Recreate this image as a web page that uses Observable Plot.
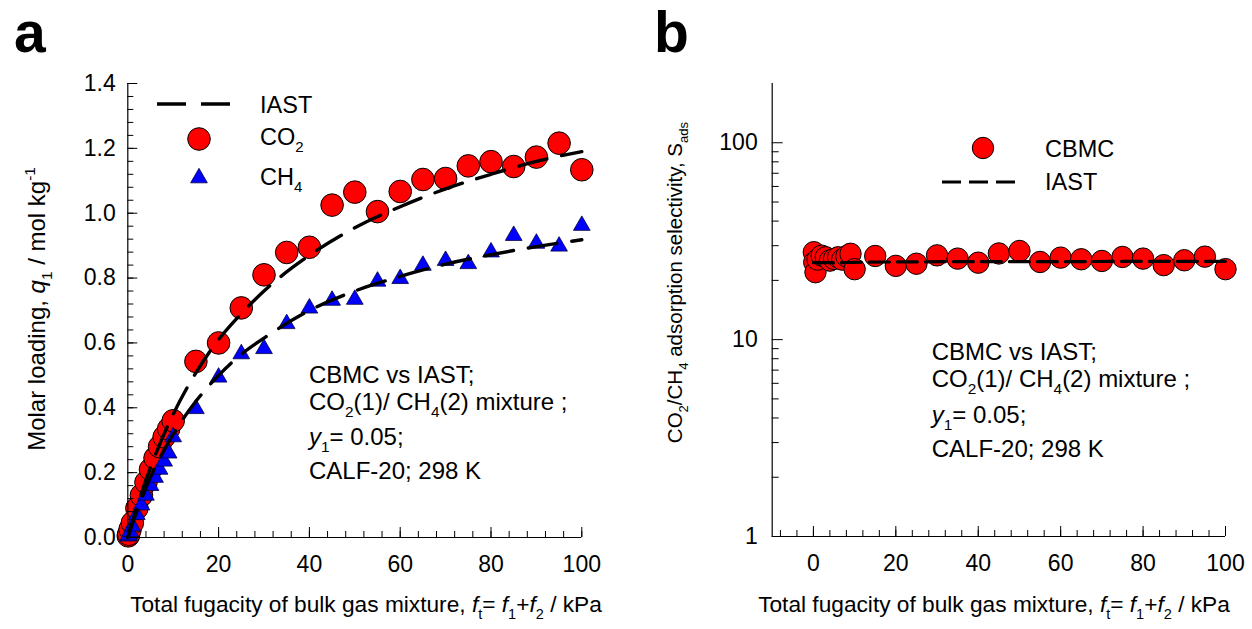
<!DOCTYPE html>
<html><head><meta charset="utf-8">
<script src="https://cdn.jsdelivr.net/npm/d3@7"></script>
<script src="https://cdn.jsdelivr.net/npm/@observablehq/plot@0.6"></script>
<style>
body{margin:0;background:#fff;}
#wrap{position:relative;width:1252px;height:629px;overflow:hidden;font-family:"Liberation Sans",Arial,sans-serif;background:#fff;}
#wrap svg{position:absolute;top:0;overflow:visible;}
</style></head><body><div id="wrap"></div>
<script>
// ---------- data ----------
const fugacity = [0.1, 0.2, 0.5, 1, 2, 3, 4, 5, 6, 7, 8, 9, 10, 15, 20, 25, 30, 35, 40, 45, 50, 55, 60, 65, 70, 75, 80, 85, 90, 95, 100];
const co2Loading = [0.005, 0.01, 0.025, 0.045, 0.09, 0.13, 0.17, 0.21, 0.245, 0.28, 0.31, 0.335, 0.36, 0.543, 0.60, 0.708, 0.81, 0.879, 0.895, 1.025, 1.065, 1.005, 1.067, 1.104, 1.107, 1.146, 1.159, 1.144, 1.173, 1.216, 1.134];
const ch4Loading = [0.004, 0.007, 0.018, 0.035, 0.07, 0.10, 0.13, 0.16, 0.185, 0.21, 0.235, 0.26, 0.31, 0.397, 0.494, 0.566, 0.582, 0.659, 0.707, 0.731, 0.734, 0.79, 0.798, 0.839, 0.854, 0.844, 0.88, 0.931, 0.907, 0.898, 0.962];
const selectivityCBMC = [27.8, 24.7, 22.0, 25.5, 26.7, 26.2, 25.2, 25.7, 26.2, 25.5, 26.5, 27.3, 22.8, 26.6, 23.7, 24.3, 26.8, 25.8, 24.6, 27.4, 28.2, 24.8, 26.1, 25.6, 25.1, 26.3, 25.8, 23.9, 25.3, 26.4, 22.8];

const iastFugacity = [0, 1, 2, 5, 10, 15, 20, 25, 30, 40, 50, 60, 70, 80, 90, 100];
const iastCO2 = [0, 0.048, 0.094, 0.216, 0.38, 0.508, 0.61, 0.69, 0.76, 0.87, 0.955, 1.02, 1.075, 1.12, 1.16, 1.19];
const iastCH4 = [0, 0.042, 0.081, 0.186, 0.318, 0.42, 0.5, 0.565, 0.615, 0.7, 0.76, 0.805, 0.843, 0.872, 0.897, 0.918];

const selIastFugacity = [0, 5, 10, 20, 40, 60, 80, 100];
const selIast = [24.6, 24.6, 24.7, 24.8, 24.9, 24.9, 25.0, 25.0];

const xTicks = [0, 20, 40, 60, 80, 100];
const yTicksA = [0, 0.2, 0.4, 0.6, 0.8, 1.0, 1.2, 1.4];
const yTicksB = [1, 10, 100];

// ---------- tables ----------
const cbmc = fugacity.map((f, i) => ({f, co2: co2Loading[i], ch4: ch4Loading[i], s: selectivityCBMC[i]}));
const iast = iastFugacity.map((f, i) => ({f, co2: iastCO2[i], ch4: iastCH4[i]}));
const iastSel = selIastFugacity.map((f, i) => ({f, s: selIast[i]}));

const minorXA = d3.range(0, 100.01, 4);
const minorYA = d3.range(0, 35.5, 1).map(i => +(i * 0.04).toFixed(2));
const minorXB = d3.range(-8, 100.01, 4);
const minorYB = [2,3,4,5,6,7,8,9,20,30,40,50,60,70,80,90];

const FONT = '"Liberation Sans", Arial, sans-serif';
const style = {fontFamily: FONT, fontSize: "23px", color: "#000", background: "none", overflow: "visible"};

// ---------- panel a ----------
const mA = {l: 127.3, r: 44.7, t: 83, b: 92};
const pwA = 626 - mA.l - mA.r, phA = 629 - mA.t - mA.b;
const plotA = Plot.plot({
  width: 626, height: 629,
  marginLeft: mA.l, marginRight: mA.r, marginTop: mA.t, marginBottom: mA.b,
  style,
  x: {domain: [0, 100], label: null},
  y: {domain: [0, 1.4], label: null},
  marks: [
    Plot.dot(cbmc, {x: "f", y: "co2", r: 11.3, fill: "#ff0000", stroke: "#000", strokeWidth: 1}),
    Plot.dot(cbmc, {x: "f", y: "ch4", r: 6.2, symbol: "triangle", fill: "#0000ff", stroke: "#000040", strokeWidth: 0.8}),
    Plot.line(iast, {x: "f", y: "co2", stroke: "#000", strokeWidth: 3.4, strokeDasharray: "29,15", curve: "monotone-x"}),
    Plot.line(iast, {x: "f", y: "ch4", stroke: "#000", strokeWidth: 3.4, strokeDasharray: "29,15", curve: "monotone-x"}),
    Plot.tickX(minorXA, {x: d => d, insetTop: phA - 6, stroke: "#000"}),
    Plot.tickX(xTicks, {x: d => d, insetTop: phA - 10, stroke: "#000"}),
    Plot.tickY(minorYA, {y: d => d, insetRight: pwA - 6, stroke: "#000"}),
    Plot.tickY(yTicksA, {y: d => d, insetRight: pwA - 10, stroke: "#000"}),
    Plot.ruleX([0], {stroke: "#000", strokeWidth: 1.2}),
    Plot.ruleY([0], {stroke: "#000", strokeWidth: 1.2}),
    Plot.axisX({ticks: xTicks, tickSize: 0, tickPadding: 18, label: null, fontSize: 23}),
    Plot.axisY({ticks: yTicksA, tickSize: 0, tickPadding: 12, tickFormat: d => d.toFixed(1), label: null, fontSize: 23})
  ]
});

// ---------- panel b ----------
const mB = {l: 145.7, r: 27, t: 83, b: 93};
const pwB = 626 - mB.l - mB.r, phB = 629 - mB.t - mB.b;
const plotB = Plot.plot({
  width: 626, height: 629,
  marginLeft: mB.l, marginRight: mB.r, marginTop: mB.t, marginBottom: mB.b,
  style,
  x: {domain: [-10, 100], label: null},
  y: {type: "log", domain: [1, 200], label: null},
  marks: [
    Plot.dot(cbmc, {x: "f", y: "s", r: 10.7, fill: "#ff0000", stroke: "#000", strokeWidth: 1}),
    Plot.line(iastSel, {x: "f", y: "s", stroke: "#000", strokeWidth: 3.2, strokeDasharray: "20,8", curve: "monotone-x"}),
    Plot.tickX(minorXB, {x: d => d, insetTop: phB - 6, stroke: "#000"}),
    Plot.tickX(xTicks, {x: d => d, insetTop: phB - 10, stroke: "#000"}),
    Plot.tickY(minorYB, {y: d => d, insetRight: pwB - 7, stroke: "#000"}),
    Plot.tickY(yTicksB, {y: d => d, insetRight: pwB - 11, stroke: "#000"}),
    Plot.ruleX([-10], {stroke: "#000", strokeWidth: 1.2}),
    Plot.ruleY([1], {stroke: "#000", strokeWidth: 1.2}),
    Plot.axisX({ticks: xTicks, tickSize: 0, tickPadding: 18, label: null, fontSize: 23}),
    Plot.axisY({ticks: yTicksB, tickSize: 0, tickPadding: 14.5, tickFormat: d => String(d), label: null, fontSize: 23})
  ]
});

const wrap = document.getElementById("wrap");
plotA.style.left = "0px";
plotB.style.left = "626px";
wrap.appendChild(plotA);
wrap.appendChild(plotB);

// ---------- overlay: titles, annotations, legends ----------
const ov = d3.select(wrap).append("svg")
  .attr("width", 1252).attr("height", 629)
  .style("left", "0px").style("pointer-events", "none")
  .attr("font-family", FONT);

function rich(x, y, parts, {size = 24, anchor = "start", rotate = 0, weight = null} = {}) {
  const t = ov.append("text").attr("x", x).attr("y", y).attr("font-size", size)
    .attr("text-anchor", anchor).attr("fill", "#000");
  if (weight) t.attr("font-weight", weight);
  if (rotate) t.attr("transform", `rotate(${rotate},${x},${y})`);
  let shift = 0;
  for (const p of parts) {
    const [s, kind] = Array.isArray(p) ? p : [p, ""];
    const ts = t.append("tspan").text(s);
    let target = 0, fs = size;
    if (kind === "sub" || kind === "isub") { target = size * 0.3; fs = size * 0.64; }
    if (kind === "sup") { target = -size * 0.42; fs = size * 0.64; }
    if (target - shift !== 0) ts.attr("dy", target - shift);
    shift = target;
    if (fs !== size) ts.attr("font-size", fs);
    if (kind === "i" || kind === "isub") ts.attr("font-style", "italic");
  }
  return t;
}

// panel letters
rich(14, 52, ["a"], {size: 57, weight: "bold"});
rich(654, 52, ["b"], {size: 57, weight: "bold"});

// axis titles
const xTitle = ["Total fugacity of bulk gas mixture, ", ["f", "i"], ["t", "sub"], "= ", ["f", "i"], ["1", "sub"], "+", ["f", "i"], ["2", "sub"], " / kPa"];
rich(366, 612, xTitle, {size: 22.7, anchor: "middle"});
rich(994, 612, xTitle, {size: 22.7, anchor: "middle"});
rich(45, 309, ["Molar loading, ", ["q", "i"], ["1", "sub"], " / mol kg", ["-1", "sup"]], {size: 24, anchor: "middle", rotate: -90});
rich(681.5, 282.5, ["CO", ["2", "sub"], "/CH", ["4", "sub"], " adsorption selectivity, S", ["ads", "sub"]], {size: 20.5, anchor: "middle", rotate: -90});

// annotations
function annot(x, ys) {
  rich(x, ys[0], ["CBMC vs IAST;"]);
  rich(x, ys[1], ["CO", ["2", "sub"], "(1)/ CH", ["4", "sub"], "(2) mixture ;"]);
  rich(x, ys[2], [["y", "i"], ["1", "sub"], "= 0.05;"]);
  rich(x, ys[3], ["CALF-20; 298 K"]);
}
annot(309, [383, 410, 445, 479]);
annot(931.7, [360, 387, 423, 457]);

// legend panel a
ov.append("line").attr("x1", 157).attr("x2", 231).attr("y1", 104).attr("y2", 104)
  .attr("stroke", "#000").attr("stroke-width", 3.4).attr("stroke-dasharray", "29,15");
rich(260, 113, ["IAST"], {size: 23.5});
ov.append("circle").attr("cx", 199).attr("cy", 139).attr("r", 11.3).attr("fill", "#ff0000").attr("stroke", "#000");
rich(260, 145, ["CO", ["2", "sub"]], {size: 23.5});
ov.append("path").attr("d", d3.symbol(d3.symbolTriangle, Math.PI * 6.2 * 6.2)())
  .attr("transform", "translate(199,178)").attr("fill", "#0000ff").attr("stroke", "#000040").attr("stroke-width", 0.8);
rich(260, 185, ["CH", ["4", "sub"]], {size: 23.5});

// legend panel b
ov.append("circle").attr("cx", 983).attr("cy", 148).attr("r", 10.7).attr("fill", "#ff0000").attr("stroke", "#000");
rich(1045, 157, ["CBMC"], {size: 23.5});
ov.append("line").attr("x1", 942).attr("x2", 1015).attr("y1", 182).attr("y2", 182)
  .attr("stroke", "#000").attr("stroke-width", 3.2).attr("stroke-dasharray", "19,8");
rich(1045, 190, ["IAST"], {size: 23.5});
</script>
</body></html>
